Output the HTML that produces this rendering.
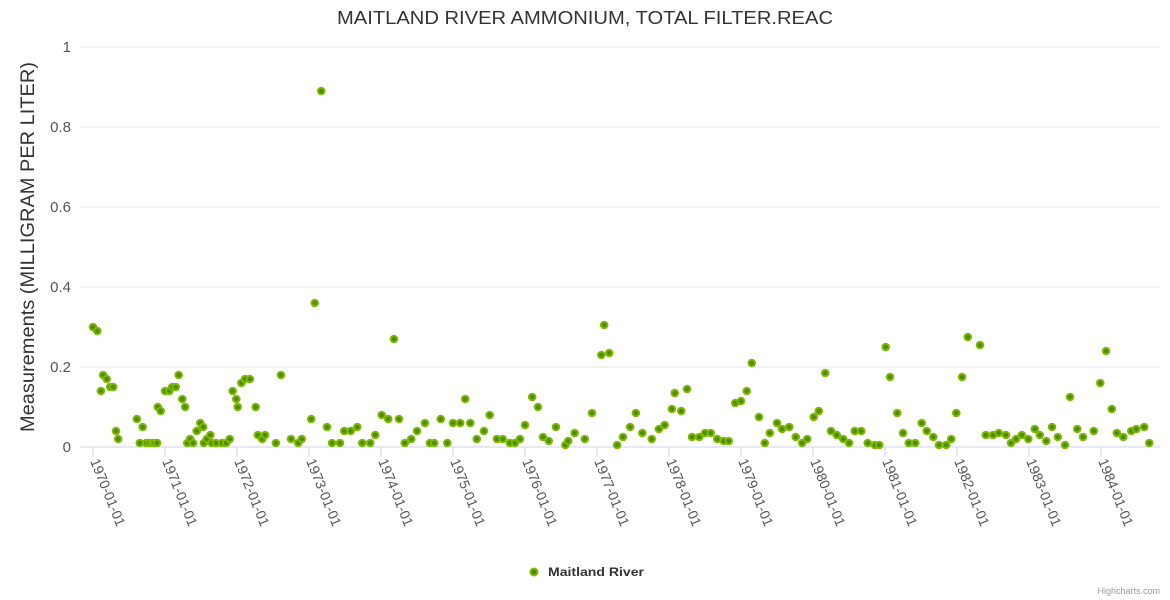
<!DOCTYPE html>
<html><head><meta charset="utf-8"><style>
body{margin:0;background:#fff;font-family:"Liberation Sans",sans-serif}
svg{display:block}
</style></head><body>
<svg id="chart" width="1170" height="600" xmlns="http://www.w3.org/2000/svg">
<rect width="1170" height="600" fill="#fff"/>
<text x="585" y="24" text-anchor="middle" font-size="18" fill="#333" textLength="496" lengthAdjust="spacingAndGlyphs">MAITLAND RIVER AMMONIUM, TOTAL FILTER.REAC</text>
<text transform="translate(34,247) rotate(-90)" text-anchor="middle" font-size="19" fill="#333" textLength="370" lengthAdjust="spacingAndGlyphs">Measurements (MILLIGRAM PER LITER)</text>
<g id="grid"></g><g id="xaxis"></g><g id="points"></g>
<g>
<circle cx="534" cy="572" r="3.5" fill="#4b8c00" stroke="#7fb800" stroke-width="2"/>
<text x="548" y="576" font-size="12" font-weight="bold" fill="#333" textLength="96" lengthAdjust="spacingAndGlyphs">Maitland River</text>
</g>
<text x="1160" y="594" text-anchor="end" font-size="9" fill="#999">Highcharts.com</text>
</svg>
<script>
const yTicks=[0,0.2,0.4,0.6,0.8,1];
const yTickLabels=["0","0.2","0.4","0.6","0.8","1"];
const xTickYears=[0,1,2,3,4,5,6,7,8,9,10,11,12,13,14];
const xTickLabels=["1970-01-01","1971-01-01","1972-01-01","1973-01-01","1974-01-01","1975-01-01","1976-01-01","1977-01-01","1978-01-01","1979-01-01","1980-01-01","1981-01-01","1982-01-01","1983-01-01","1984-01-01"];
const yearsSince1970=[0,.06,.11,.14,.19,.24,.28,.32,.35,.61,.65,.69,.74,.78,.82,.85,.89,.90,.94,1.00,1.06,1.10,1.15,1.19,1.24,1.28,1.31,1.35,1.39,1.44,1.49,1.53,1.54,1.58,1.63,1.65,1.71,1.79,1.85,1.90,1.94,1.99,2.01,2.06,2.11,2.18,2.26,2.29,2.35,2.39,2.54,2.61,2.75,2.85,2.90,3.03,3.08,3.17,3.25,3.32,3.43,3.49,3.58,3.67,3.74,3.85,3.92,4.01,4.10,4.18,4.25,4.33,4.42,4.50,4.61,4.68,4.74,4.83,4.92,5.00,5.10,5.17,5.24,5.33,5.43,5.51,5.61,5.69,5.79,5.86,5.93,6.00,6.10,6.18,6.25,6.33,6.43,6.56,6.60,6.69,6.83,6.93,7.06,7.10,7.17,7.28,7.36,7.46,7.54,7.63,7.76,7.86,7.94,8.04,8.08,8.17,8.25,8.32,8.42,8.50,8.58,8.67,8.76,8.83,8.92,9.00,9.08,9.15,9.25,9.33,9.40,9.50,9.57,9.67,9.76,9.85,9.92,10.01,10.08,10.17,10.25,10.33,10.42,10.50,10.58,10.67,10.76,10.86,10.92,11.01,11.07,11.17,11.25,11.33,11.42,11.51,11.58,11.67,11.75,11.85,11.92,11.99,12.07,12.15,12.32,12.40,12.50,12.58,12.68,12.75,12.82,12.90,12.99,13.08,13.15,13.24,13.32,13.40,13.50,13.57,13.67,13.75,13.90,13.99,14.07,14.15,14.22,14.31,14.42,14.49,14.60,14.67];
const values=[0.30,0.29,0.14,0.18,0.17,0.15,0.15,0.04,0.02,0.07,0.01,0.05,0.01,0.01,0.01,0.01,0.01,0.10,0.09,0.14,0.14,0.15,0.15,0.18,0.12,0.10,0.01,0.02,0.01,0.04,0.06,0.05,0.01,0.02,0.03,0.01,0.01,0.01,0.01,0.02,0.14,0.12,0.10,0.16,0.17,0.17,0.10,0.03,0.02,0.03,0.01,0.18,0.02,0.01,0.02,0.07,0.36,0.89,0.05,0.01,0.01,0.04,0.04,0.05,0.01,0.01,0.03,0.08,0.07,0.27,0.07,0.01,0.02,0.04,0.06,0.01,0.01,0.07,0.01,0.06,0.06,0.12,0.06,0.02,0.04,0.08,0.02,0.02,0.01,0.01,0.02,0.055,0.125,0.10,0.025,0.015,0.05,0.005,0.015,0.035,0.02,0.085,0.23,0.305,0.235,0.005,0.025,0.05,0.085,0.035,0.02,0.045,0.055,0.095,0.135,0.09,0.145,0.025,0.025,0.035,0.035,0.02,0.015,0.015,0.11,0.115,0.14,0.21,0.075,0.01,0.035,0.06,0.045,0.05,0.025,0.01,0.02,0.075,0.09,0.185,0.04,0.03,0.02,0.01,0.04,0.04,0.01,0.005,0.005,0.25,0.175,0.085,0.035,0.01,0.01,0.06,0.04,0.025,0.005,0.005,0.02,0.085,0.175,0.275,0.255,0.03,0.03,0.035,0.03,0.01,0.02,0.03,0.02,0.045,0.03,0.015,0.05,0.025,0.005,0.125,0.045,0.025,0.04,0.16,0.24,0.095,0.035,0.025,0.04,0.045,0.05,0.01];

const NS="http://www.w3.org/2000/svg";
const X0=80,X1=1160,Y0=447,Y1=47;
function xScale(t){return 93+72*t;}
function yScale(v){return Y0-(v/1)*(Y0-Y1);}
function mk(tag,attrs,parent){const e=document.createElementNS(NS,tag);for(const k in attrs)e.setAttribute(k,attrs[k]);parent.appendChild(e);return e;}
const grid=document.getElementById('grid');
yTicks.forEach((v,i)=>{
  const y=yScale(v);
  const l=mk('line',{x1:X0,x2:X1,y1:y,y2:y,stroke:i===0?'#ccd6eb':'#e6e6e6','stroke-width':1},grid);
  
  
  const t=mk('text',{x:71,y:y+5,'text-anchor':'end','font-size':15,fill:'#555'},grid);
  t.textContent=yTickLabels[i];
  
  
});
const xa=document.getElementById('xaxis');
xTickYears.forEach((yr,i)=>{
  const x=xScale(yr);
  const tk=mk('line',{x1:x,x2:x,y1:Y0,y2:Y0+10,stroke:'#ccd6eb'},xa);
  
  
  const t=mk('text',{transform:`translate(${x-3},${Y0+14}) rotate(68)`,'font-size':14,fill:'#555'},xa);
  t.textContent=xTickLabels[i];
  
  
});
const pts=document.getElementById('points');
values.forEach((v,i)=>{
  const c=mk('circle',{cx:xScale(yearsSince1970[i]),cy:yScale(v),r:3.3,fill:'#4b8c00',stroke:'#7fb800','stroke-width':2},pts);
  
  
});
</script>
</body></html>
